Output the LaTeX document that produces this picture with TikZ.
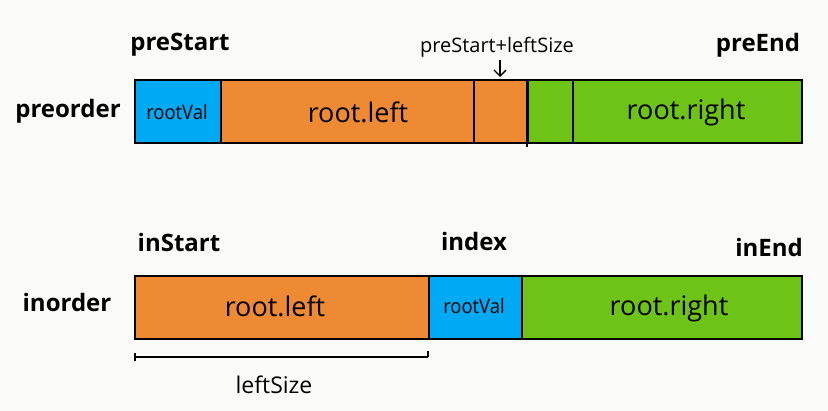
\documentclass[tikz,border=0pt]{standalone}
\usepackage{fontspec}
\setmainfont{Open Sans}
\usetikzlibrary{arrows.meta}
\definecolor{bg}{HTML}{FAFAF8}
\definecolor{segblue}{HTML}{00A9F4}
\definecolor{segorange}{HTML}{EE8A33}
\definecolor{seggreen}{HTML}{6DC417}
\tikzset{
  seg/.style={draw=black, line width=1.7pt, anchor=north west, inner sep=0pt,
    minimum height=63pt},
  segtext/.style={font=\fontsize{27}{27}\selectfont, inner sep=0pt},
  valtext/.style={font=\fontsize{20}{20}\selectfont, inner sep=0pt},
  tag/.style={font=\bfseries\fontsize{24}{24}\selectfont, inner sep=0pt},
  divider/.style={line width=1.7pt},
  note/.style={font=\fontsize{20}{20}\selectfont, inner sep=0pt}
}
\newcommand{\narrowtext}[1]{\scalebox{0.92}[1]{#1}}
\begin{document}
\begin{tikzpicture}[x=1pt, y=-1pt]
  \fill[bg] (0,0) rectangle (828,411);
  \useasboundingbox (0,0) rectangle (828,411);

  % preorder array
  \node[seg, fill=segblue, minimum width=86pt] (pv) at (134,79) {};
  \node[seg, fill=segorange, minimum width=307pt] (pl) at (220,79) {};
  \node[seg, fill=seggreen, minimum width=274pt] (pr) at (527,79) {};
  \node[valtext] (pvt) at (177,112) {\narrowtext{rootVal}};
  \node[segtext] (plt) at (358,112) {root.left};
  \node[segtext] (prt) at (686,112) {root.right};
  \draw[divider] (474,79) -- (474,142);
  \draw[divider] (527,79) -- (527,147);
  \draw[divider] (573,79) -- (573,142);

  \node[tag] (prename) at (68,111) {preorder};
  \node[tag] (prestart) at (180,45) {preStart};
  \node[tag] (preend) at (758,45) {preEnd};
  \node[note] (split) at (497,47) {preStart+leftSize};
  \coordinate (splitpt) at (500,77);
  \coordinate (splittop) at (500,60);
  \draw[line width=1.4pt, -{Straight Barb[length=6pt, width=12pt]}] (splittop) -- (splitpt);

  % inorder array
  \node[seg, fill=segorange, minimum width=294pt] (il) at (134,275) {};
  \node[seg, fill=segblue, minimum width=93pt] (iv) at (428,275) {};
  \node[seg, fill=seggreen, minimum width=280pt] (ir) at (521,275) {};
  \node[segtext] (ilt) at (275,306) {root.left};
  \node[valtext] (ivt) at (474,306) {\narrowtext{rootVal}};
  \node[segtext] (irt) at (669,308) {root.right};

  \node[tag] (inname) at (67,303) {inorder};
  \node[tag] (instart) at (179,243) {inStart};
  \node[tag] (index) at (474,242) {index};
  \node[tag] (inend) at (769,248) {inEnd};

  % extent of the left subtree
  \coordinate (ls1) at (135,357);
  \coordinate (ls2) at (428,357);
  \draw[line width=1.6pt] (ls1) -- (ls2);
  \draw[line width=1.6pt] (ls1) ++(0,-4) -- ++(0,8);
  \draw[line width=1.6pt] (ls2) -- ++(0,-6);
  \node[note, font=\fontsize{23}{23}\selectfont] (lsize) at (274,385) {leftSize};
\end{tikzpicture}
\end{document}
